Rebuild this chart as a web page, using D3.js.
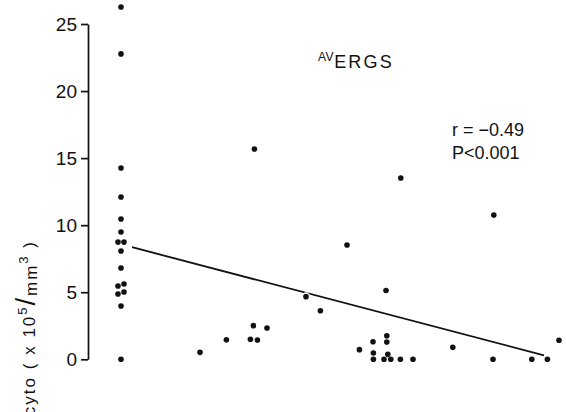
<!DOCTYPE html>
<html>
<head>
<meta charset="utf-8">
<script src="https://cdn.jsdelivr.net/npm/d3@7"></script>
<style>
	html, body { margin: 0; padding: 0; background: #fff; }
	svg { display: block; font-family: 'Liberation Sans', Arial, sans-serif; }
</style>
</head>
<body>
<svg id="chart" width="566" height="412"></svg>
<script>
'use strict';

// x position (arbitrary units, no x axis in the original) and cyto count (x10^5/mm^3)
var xValues = [
	0, 0, 0, 0, 0, 0, -0.15, 0.15, 0, 0, -0.15, 0.15, -0.15, 0.15, 0, 0,
	3.95, 5.27, 6.47, 6.82, 6.62, 7.30, 6.67, 9.25, 9.97, 11.30, 11.92,
	12.60, 12.62, 12.62, 13.25, 13.29, 13.29, 13.34, 13.15, 13.49, 13.97,
	14.60, 13.99, 16.59, 18.64, 18.60, 20.54, 21.32, 21.90
];
var yValues = [
	26.27, 22.77, 14.26, 12.10, 10.46, 9.49, 8.74, 8.74, 8.08, 6.81, 5.47, 5.61, 4.87, 5.02, 3.97, 0,
	0.52, 1.46, 1.49, 1.44, 2.51, 2.33, 15.68, 4.67, 3.62, 8.52, 0.72,
	1.31, 0.47, 0, 5.13, 1.76, 1.29, 0.37, 0, 0, 0,
	0, 13.52, 0.90, 10.76, 0, 0, 0, 1.42
];

// regression line ends
var fitX = [0.55, 21.15];
var fitY = [8.36, 0.30];

var yTicks = [0, 5, 10, 15, 20, 25];
var statLines = ['r = \u22120.49', 'P<0.001'];

var svg = d3.select('#chart');

var x = d3.scaleLinear()
	.domain([0, 22])
	.range([121, 561]);

var y = d3.scaleLinear()
	.domain([0, 25])
	.range([359.3, 24]);

var ink = '#111';

// y axis
var yAxis = svg.append('g')
	.attr('transform', 'translate(88,0)')
	.call(d3.axisLeft(y)
		.tickValues(yTicks)
		.tickSize(7)
		.tickSizeOuter(0)
		.tickPadding(4));

yAxis.select('.domain')
	.attr('stroke', ink)
	.attr('stroke-width', 1.7);
yAxis.selectAll('.tick line')
	.attr('stroke', ink)
	.attr('stroke-width', 1.7);
yAxis.selectAll('.tick text')
	.attr('fill', ink)
	.attr('font-size', 19)
	.attr('font-family', "'Liberation Sans', Arial, sans-serif");

// y axis label
var label = svg.append('text')
	.attr('transform', 'translate(35,240) rotate(-90)')
	.attr('text-anchor', 'end')
	.attr('fill', ink)
	.attr('font-size', 17)
	.attr('letter-spacing', 2);

label.append('tspan').text('cyto   (  x 10');
label.append('tspan').attr('dy', -8).attr('font-size', 13).text('5');
label.append('tspan').attr('dy', 8).attr('font-size', 27).text('/');
label.append('tspan').attr('dy', 2).text('mm');
label.append('tspan').attr('dy', -9).attr('font-size', 13).text('3');
label.append('tspan').attr('dy', 7).text(' )');

// regression line
var line = d3.line()
	.x(function(d) { return x(d[0]); })
	.y(function(d) { return y(d[1]); });

svg.append('path')
	.datum(d3.zip(fitX, fitY))
	.attr('fill', 'none')
	.attr('stroke', ink)
	.attr('stroke-width', 1.8)
	.attr('d', line);

var points = d3.zip(xValues, yValues);

// white rims that break the line where a point touches it
svg.append('g')
	.selectAll('circle')
	.data(points)
	.enter().append('circle')
		.attr('cx', function(d) { return x(d[0]); })
		.attr('cy', function(d) { return y(d[1]); })
		.attr('r', 4.3)
		.attr('fill', '#fff');

svg.append('g')
	.selectAll('circle')
	.data(points)
	.enter().append('circle')
		.attr('cx', function(d) { return x(d[0]); })
		.attr('cy', function(d) { return y(d[1]); })
		.attr('r', 2.8)
		.attr('fill', ink);

// title
var title = svg.append('text')
	.attr('x', 318)
	.attr('y', 68)
	.attr('fill', ink);
title.append('tspan')
	.attr('font-size', 12)
	.attr('dy', -7)
	.attr('letter-spacing', 0.5)
	.text('AV');
title.append('tspan')
	.attr('font-size', 18)
	.attr('dy', 7)
	.attr('letter-spacing', 2.2)
	.text('ERGS');

// statistics
svg.append('g')
	.selectAll('text')
	.data(statLines)
	.enter().append('text')
		.attr('x', 452)
		.attr('y', function(d, i) { return 136 + i * 23; })
		.attr('fill', ink)
		.attr('font-size', 18)
		.text(function(d) { return d; });
</script>
</body>
</html>
